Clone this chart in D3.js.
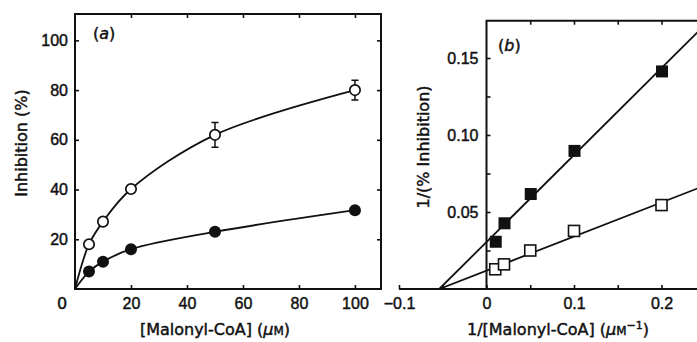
<!DOCTYPE html>
<html>
<head>
<meta charset="utf-8">
<script src="https://cdn.jsdelivr.net/npm/d3@7"></script>
<style>
  body { margin: 0; background: #fff; }
  svg { display: block; font-family: "DejaVu Sans", "Liberation Sans", Arial, sans-serif; }
  svg text { stroke: #111; stroke-width: 0.45px; }
  .tick text { font-size: 16px; fill: #111; }
</style>
</head>
<body>
<div id="chart"></div>
<script>
// ---- panel (a): inhibition vs [malonyl-CoA]
const concA = [5, 10, 20, 50, 100];
const openA = [18, 27.1, 40.2, 62, 80];
const openErrA = [0, 0, 0, 5, 4];
const filledA = [7, 11, 16, 23, 31.7];
const originA = [0, 0]; // fitted curves start at the origin
const xTicksA = [0, 20, 40, 60, 80, 100];
const yTicksA = [20, 40, 60, 80, 100];

// ---- panel (b): double reciprocal plot
const invConcB = [0.01, 0.02, 0.05, 0.1, 0.2];
const filledB = [0.031, 0.043, 0.062, 0.090, 0.1416];
const openB = [0.0128, 0.016, 0.025, 0.0377, 0.0545];
const filledLineB = [[-0.054, 0], [0.26, 0.1774]];
const openLineB = [[-0.054, 0], [0.26, 0.0695]];
const xTicksB = [-0.1, -0.05, 0, 0.05, 0.1, 0.15, 0.2, 0.25];
const xLabelsB = [-0.1, 0, 0.1, 0.2];
const yTicksB = [0.025, 0.05, 0.075, 0.1, 0.125, 0.15];
const yLabelsB = [0.05, 0.1, 0.15];

const W = 697, H = 342;
const svg = d3.select("#chart").append("svg")
  .attr("width", W)
  .attr("height", H);

const ink = "#111";

// scales
const xa = d3.scaleLinear().domain([0, 109.3]).range([75, 381]);
const ya = d3.scaleLinear().domain([0, 110.6]).range([289, 14]);
const xb = d3.scaleLinear().domain([-0.1, 0.2]).range([399, 661.5]);
const yb = d3.scaleLinear().domain([0, 0.15]).range([289, 58]);

function styleAxis(g) {
  g.select(".domain").remove();
  g.selectAll(".tick line").attr("stroke", ink).attr("stroke-width", 1.6);
}

/* ------------ Panel (a) ------------ */
const ga = svg.append("g");

ga.append("g")
  .attr("transform", `translate(0,${ya(0)})`)
  .call(d3.axisBottom(xa).tickValues(xTicksA.filter(d => d > 0)).tickSize(-4).tickPadding(9))
  .call(styleAxis);
// the shared origin label
ga.append("text")
  .attr("x", xa(0) - 13).attr("y", ya(0) + 9)
  .attr("dy", "0.71em")
  .attr("text-anchor", "middle")
  .style("font-size", "16px").attr("fill", ink)
  .text("0");

ga.append("g")
  .attr("transform", `translate(${xa(0)},0)`)
  .call(d3.axisLeft(ya).tickValues(yTicksA).tickSize(-4).tickPadding(7))
  .call(styleAxis);

ga.append("g")
  .attr("transform", `translate(0,${ya.range()[1]})`)
  .call(d3.axisTop(xa).tickValues(xTicksA.filter(d => d > 0)).tickSize(-4).tickFormat(""))
  .call(styleAxis);

ga.append("g")
  .attr("transform", `translate(${xa.range()[1]},0)`)
  .call(d3.axisRight(ya).tickValues(yTicksA).tickSize(-4).tickFormat(""))
  .call(styleAxis);

// frame
ga.append("rect")
  .attr("x", xa.range()[0]).attr("y", ya.range()[1])
  .attr("width", xa.range()[1] - xa.range()[0])
  .attr("height", ya.range()[0] - ya.range()[1])
  .attr("fill", "none").attr("stroke", ink).attr("stroke-width", 2);

// error bars
const errA = concA.map((c, i) => ({ c, v: openA[i], e: openErrA[i] })).filter(d => d.e > 0);
ga.selectAll(".err").data(errA).join("path")
  .attr("class", "err")
  .attr("d", d => {
    const x = xa(d.c), y1 = ya(d.v - d.e), y2 = ya(d.v + d.e);
    return `M${x},${y1}V${y2}M${x - 3.5},${y1}H${x + 3.5}M${x - 3.5},${y2}H${x + 3.5}`;
  })
  .attr("fill", "none").attr("stroke", ink).attr("stroke-width", 1.5);

// fitted curves
const curveA = d3.line().x(d => xa(d[0])).y(d => ya(d[1])).curve(d3.curveCatmullRom.alpha(0.5));
[openA, filledA].forEach(vals => {
  ga.append("path")
    .datum([originA].concat(concA.map((c, i) => [c, vals[i]])))
    .attr("d", curveA)
    .attr("fill", "none").attr("stroke", ink).attr("stroke-width", 1.8);
});

// points
ga.selectAll(".pt-open").data(concA).join("circle")
  .attr("cx", d => xa(d)).attr("cy", (d, i) => ya(openA[i]))
  .attr("r", 5.2)
  .attr("fill", "#fff").attr("stroke", ink).attr("stroke-width", 1.7);
ga.selectAll(".pt-filled").data(concA).join("circle")
  .attr("cx", d => xa(d)).attr("cy", (d, i) => ya(filledA[i]))
  .attr("r", 6)
  .attr("fill", ink);

ga.append("text")
  .attr("x", 93).attr("y", 39)
  .style("font-size", "16px").attr("fill", ink)
  .call(t => {
    t.append("tspan").text("(");
    t.append("tspan").style("font-style", "italic").text("a");
    t.append("tspan").text(")");
  });

ga.append("text")
  .attr("transform", "translate(27,143) rotate(-90)")
  .attr("text-anchor", "middle")
  .style("font-size", "16px").attr("fill", ink)
  .text("Inhibition (%)");

ga.append("text")
  .attr("x", 215).attr("y", 335)
  .attr("text-anchor", "middle")
  .style("font-size", "16px").attr("fill", ink)
  .call(t => {
    t.append("tspan").text("[Malonyl-CoA] (");
    t.append("tspan").style("font-style", "italic").text("μ");
    t.append("tspan").style("font-size", "12px").text("M");
    t.append("tspan").text(")");
  });

/* ------------ Panel (b) ------------ */
const gb = svg.append("g");
const bRight = xb(0.25);
const topB = 20.7;

gb.append("g")
  .attr("transform", `translate(0,${yb(0)})`)
  .call(d3.axisBottom(xb).tickValues(xTicksB).tickSize(-4).tickPadding(9)
    .tickFormat(d => xLabelsB.some(v => Math.abs(v - d) < 1e-9) ? (d === 0 ? "0" : d3.format(".1f")(d).replace("-", "\u2212")) : ""))
  .call(styleAxis);

gb.append("g")
  .attr("transform", `translate(${xb(0)},0)`)
  .call(d3.axisLeft(yb).tickValues(yTicksB).tickSize(-4).tickPadding(8)
    .tickFormat(d => yLabelsB.some(v => Math.abs(v - d) < 1e-9) ? d3.format(".2f")(d) : ""))
  .call(styleAxis);

gb.append("g")
  .attr("transform", `translate(0,${topB})`)
  .call(d3.axisTop(xb).tickValues(xTicksB.filter(d => d > 0)).tickSize(-4).tickFormat(""))
  .call(styleAxis);

// frame: x axis line, y axis line, top line
gb.append("path")
  .attr("d", `M${xb(-0.1)},${yb(0)}H${bRight}M${xb(0)},${yb(0)}V${topB}H${bRight}`)
  .attr("fill", "none").attr("stroke", ink).attr("stroke-width", 2);

gb.append("clipPath").attr("id", "clipB")
  .append("rect")
  .attr("x", xb(-0.1)).attr("y", topB)
  .attr("width", bRight - xb(-0.1)).attr("height", yb(0) - topB);

const lineB = d3.line().x(d => xb(d[0])).y(d => yb(d[1]));
[filledLineB, openLineB].forEach(seg => {
  gb.append("path")
    .datum(seg)
    .attr("d", lineB)
    .attr("clip-path", "url(#clipB)")
    .attr("fill", "none").attr("stroke", ink).attr("stroke-width", 1.8);
});

const sq = 11;
gb.selectAll(".sq-open").data(invConcB).join("rect")
  .attr("x", d => xb(d) - sq / 2).attr("y", (d, i) => yb(openB[i]) - sq / 2)
  .attr("width", sq).attr("height", sq)
  .attr("fill", "#fff").attr("stroke", ink).attr("stroke-width", 1.6);
gb.selectAll(".sq-filled").data(invConcB).join("rect")
  .attr("x", d => xb(d) - sq / 2).attr("y", (d, i) => yb(filledB[i]) - sq / 2)
  .attr("width", sq + 1).attr("height", sq + 1)
  .attr("fill", ink);

gb.append("text")
  .attr("x", 498).attr("y", 51)
  .style("font-size", "16px").attr("fill", ink)
  .call(t => {
    t.append("tspan").text("(");
    t.append("tspan").style("font-style", "italic").text("b");
    t.append("tspan").text(")");
  });

gb.append("text")
  .attr("transform", "translate(429,147) rotate(-90)")
  .attr("text-anchor", "middle")
  .style("font-size", "16px").attr("fill", ink)
  .text("1/(% Inhibition)");

gb.append("text")
  .attr("x", 558).attr("y", 335)
  .attr("text-anchor", "middle")
  .style("font-size", "16px").attr("fill", ink)
  .call(t => {
    t.append("tspan").text("1/[Malonyl-CoA] (");
    t.append("tspan").style("font-style", "italic").text("μ");
    t.append("tspan").style("font-size", "12px").text("M");
    t.append("tspan").style("font-size", "11px").attr("dy", "-6").text("\u22121");
    t.append("tspan").attr("dy", "6").text(")");
  });
</script>
</body>
</html>
